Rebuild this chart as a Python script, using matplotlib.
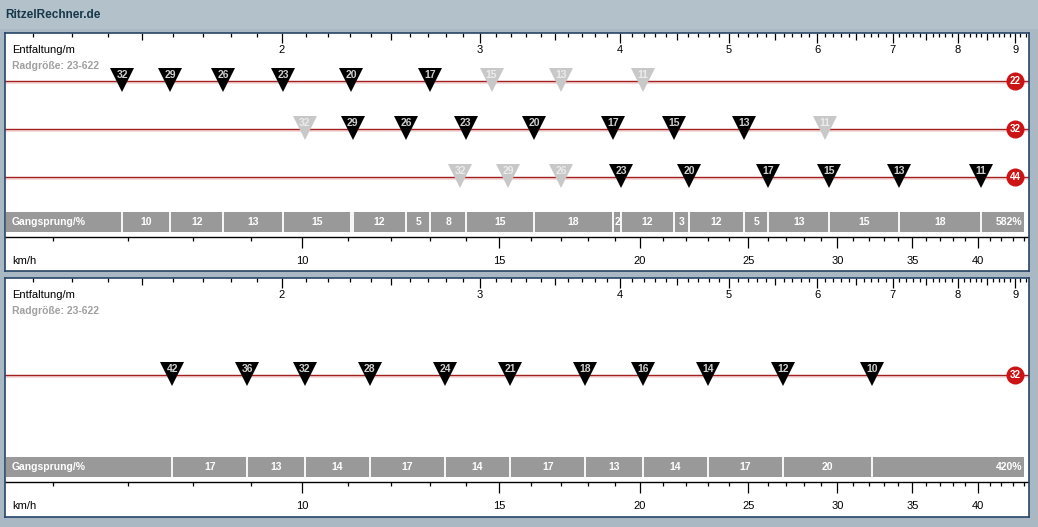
import numpy as np
import matplotlib
matplotlib.use('Agg')
import matplotlib.pyplot as plt
from matplotlib.ticker import NullLocator

plt.rcParams['font.family'] = ['Liberation Sans', 'DejaVu Sans']

# wheel 23-622, circumference in m, cadence 80 rpm -> km/h = 4.8 * development
wheel_circ = 2.096
kmh_per_m = 4.8

# panel 1: triple crank, 9-speed cassette
chainrings1 = [22, 32, 44]
cassette1 = [32, 29, 26, 23, 20, 17, 15, 13, 11]
greyed1 = {22: [15, 13, 11], 32: [32, 11], 44: [32, 29, 26]}
steps1 = ['10', '12', '13', '15', '', '12', '5', '8', '15', '18', '2', '12', '3', '12', '5', '13', '15', '18']
range1 = '582%'

# panel 2: single crank, 11-speed cassette
chainrings2 = [32]
cassette2 = [42, 36, 32, 28, 24, 21, 18, 16, 14, 12, 10]
greyed2 = {32: []}
steps2 = ['17', '13', '14', '17', '14', '17', '13', '14', '17', '20']
range2 = '420%'

top_labels = [2, 3, 4, 5, 6, 7, 8, 9]
kmh_labels = [10, 15, 20, 25, 30, 35, 40]

W, H = 1038, 527
fig = plt.figure(figsize=(W / 100, H / 100), dpi=100, facecolor='#a9b8c2')
fig.patches.append(plt.Rectangle((0, 1 - 28 / H), 1, 28 / H, transform=fig.transFigure,
                                 color='#b3c1ca', zorder=0))
fig.text(5 / W, 1 - 15 / H, 'RitzelRechner.de', fontsize=8.5, fontweight='bold',
         color='#17384a', va='center', ha='left')

d_left, d_right = 1.133, 9.261


def draw_panel(top, bottom, chainrings, cassette, greyed, steps, total, row_ys):
    ax = fig.add_axes([5 / W, 1 - bottom / H, 1024 / W, (bottom - top) / H])
    ax.set_xscale('log')
    ax.set_xlim(d_left, d_right)
    ax.set_ylim(bottom - top, 0)
    ax.xaxis.set_major_locator(NullLocator())
    ax.xaxis.set_minor_locator(NullLocator())
    ax.set_yticks([])
    for s in ax.spines.values():
        s.set_color('#26456a')
        s.set_linewidth(1.2)
    ax.set_facecolor('white')
    xt = ax.get_yaxis_transform()

    # top axis: development in m
    minor = np.arange(12, 93) / 10
    lens = [10 if abs(m - round(m)) < 1e-6 else (7 if abs(m * 2 - round(m * 2)) < 1e-6 else 4) for m in minor]
    ax.vlines(minor, 0, lens, color='black', lw=0.9)
    for t in top_labels:
        ax.text(t, 17, str(t), ha='center', va='center', fontsize=8)
    ax.text(7 / 1024, 17, 'Entfaltung/m', transform=xt, ha='left', va='center', fontsize=8)
    ax.text(7 / 1024, 33, 'Radgröße: 23-622', transform=xt, ha='left', va='center',
            fontsize=7.5, fontweight='bold', color='#a0a0a0')

    # chainring rows
    used = []
    for cr, y in zip(chainrings, row_ys):
        ax.plot([d_left, d_right], [y + 1.5, y + 1.5], color='#f6dcdc', lw=1.5, zorder=1)
        ax.plot([d_left, d_right], [y, y], color='#a32020', lw=1, zorder=2)
        for cog in cassette:
            d = cr / cog * wheel_circ
            grey = cog in greyed[cr]
            fc = '#c8c8c8' if grey else 'black'
            tc = '#ebebeb' if grey else '#cfcfcf'
            ax.plot(d, y - 1, marker='v', ms=17, color=fc, mew=0, zorder=3)
            ax.text(d, y - 6, str(cog), ha='center', va='center', fontsize=7.5,
                    fontweight='bold', color=tc, zorder=4)
            if not grey:
                used.append(d)
        ax.plot(1010 / 1024, y, marker='o', ms=13, color='#cc1414', mew=0,
                transform=xt, zorder=3)
        ax.text(1010 / 1024, y, str(cr), transform=xt, ha='center', va='center',
                fontsize=7, fontweight='bold', color='white', zorder=4)

    # Gangsprung band
    used = sorted(used)
    band_top, band_bot = 179, 199
    ax.fill_between([1 / 1024, 1019 / 1024], band_top, band_bot, color='#999999',
                    transform=xt, lw=0, zorder=2)
    ax.vlines(used, band_top, band_bot, color='white', lw=1.3, zorder=3)
    yc = (band_top + band_bot) / 2
    ax.text(7 / 1024, yc, 'Gangsprung/%', transform=xt, ha='left', va='center',
            fontsize=7.5, fontweight='bold', color='white', zorder=4)
    for a, b, s in zip(used[:-1], used[1:], steps):
        if s:
            ax.text(np.sqrt(a * b), yc, s, ha='center', va='center', fontsize=7.5,
                    fontweight='bold', color='white', zorder=4)
    ax.text(1017 / 1024, yc, total, transform=xt, ha='right', va='center',
            fontsize=7.5, fontweight='bold', color='white', zorder=4)

    # bottom axis: km/h
    ya = 204
    ax.plot([d_left, d_right], [ya, ya], color='black', lw=1, zorder=2)
    kmh_minor = [v for v in range(6, 45) if v not in kmh_labels]
    ax.vlines(np.array(kmh_minor) / kmh_per_m, ya, ya + 4, color='black', lw=0.9)
    ax.vlines(np.array(kmh_labels) / kmh_per_m, ya, ya + 11, color='black', lw=0.9)
    for v in kmh_labels:
        ax.text(v / kmh_per_m, ya + 24, str(v), ha='center', va='center', fontsize=8)
    ax.text(7 / 1024, ya + 24, 'km/h', transform=xt, ha='left', va='center', fontsize=8)
    return ax


draw_panel(33, 271, chainrings1, cassette1, greyed1, steps1, range1, [48, 96, 144])
draw_panel(278, 517, chainrings2, cassette2, greyed2, steps2, range2, [97])

fig.savefig('out.png', dpi=100, facecolor=fig.get_facecolor())
